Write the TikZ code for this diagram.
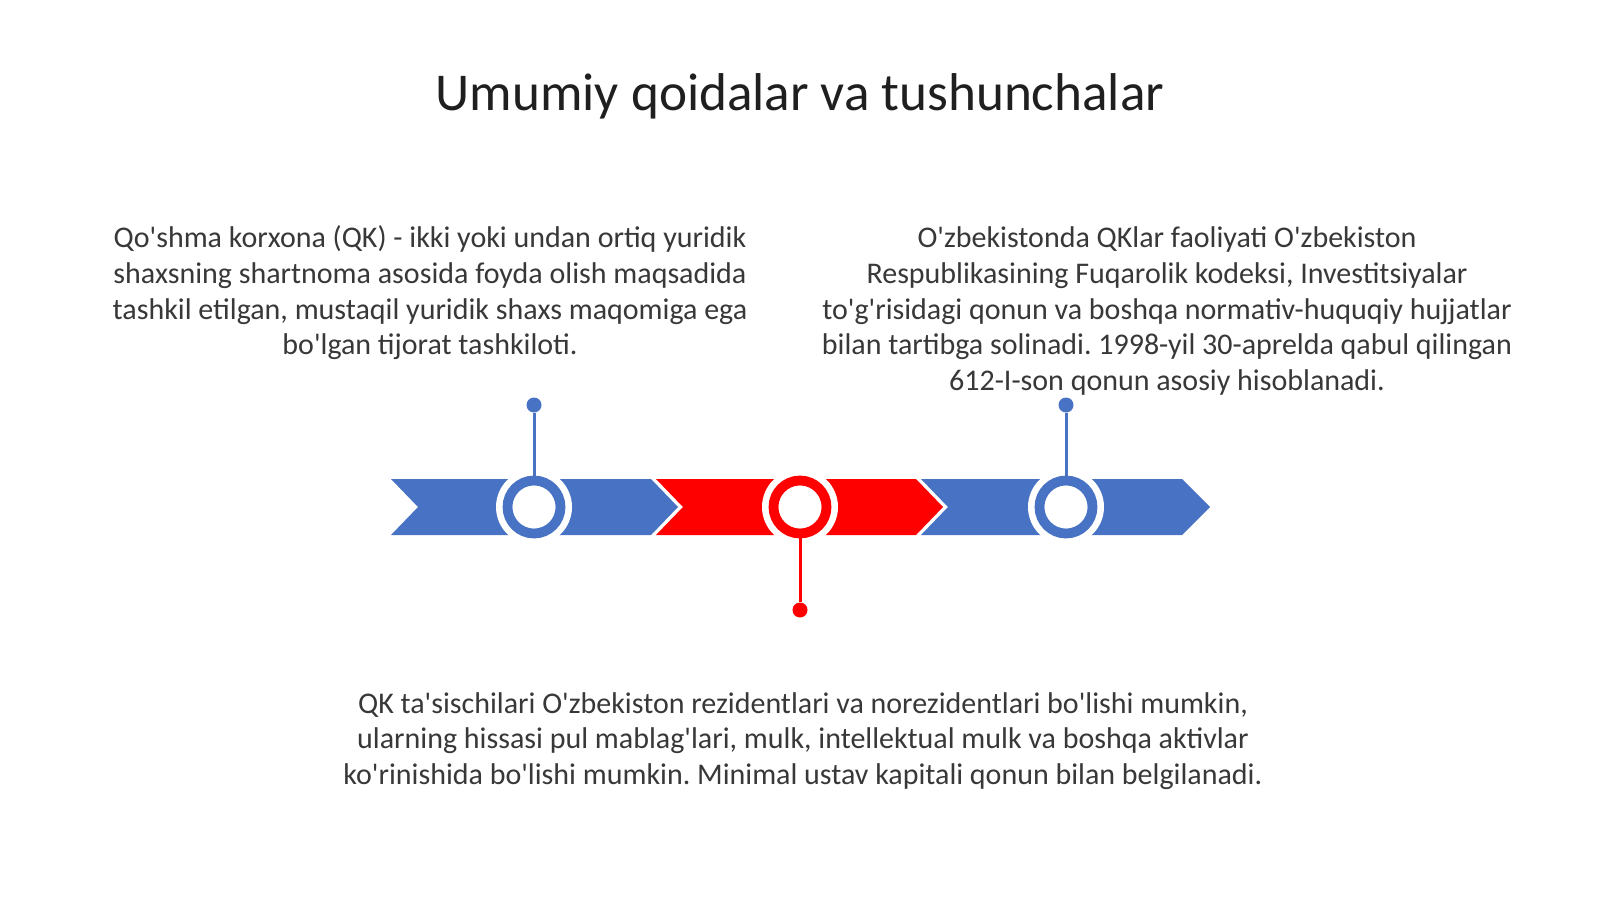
\documentclass[tikz,border=0pt]{standalone}
\usepackage{fontspec}
\setmainfont{Carlito}[Ligatures=TeXOff]
\frenchspacing
\definecolor{bandblue}{RGB}{72,114,196}
\definecolor{bandred}{RGB}{255,0,0}
\definecolor{textgray}{RGB}{56,56,56}

\begin{document}
\begin{tikzpicture}
	[x=0.5pt, y=-0.5pt,
	every node/.style={inner sep=0pt},
	txt/.style={align=center, text=textgray, font=\fontsize{15}{17.85}\selectfont},
	ring/.style={circle, fill=white, draw=#1, line width=4.9pt, minimum size=26.5pt},
	dot/.style={circle, fill=#1, minimum size=7.5pt},
	stem/.style={draw=#1, line width=1.5pt}]
	\useasboundingbox [fill=white] (0,0) rectangle (1600,899);
	\node (title) at (800,96) [text=black!88, font=\fontsize{26.6}{30}\selectfont] {Umumiy qoidalar va tushunchalar};
	% timeline bands
	\fill [bandblue] (391,479) -- (651,479) -- (678,507) -- (651,535) -- (391,535) -- (418,507) -- cycle;
	\fill [bandred] (656,479) -- (916,479) -- (943,507) -- (916,535) -- (656,535) -- (683,507) -- cycle;
	\fill [bandblue] (921,479) -- (1182,479) -- (1210,507) -- (1182,535) -- (921,535) -- (948,507) -- cycle;
	\fill [white] (534,507) circle (38) (800,507) circle (38) (1066,507) circle (38);
	\node (c1) [ring=bandblue] at (534,507) {};
	\node (c2) [ring=bandred] at (800,507) {};
	\node (c3) [ring=bandblue] at (1066,507) {};
	\node (d1) [dot=bandblue] at (534,405) {};
	\node (d2) [dot=bandred] at (800,610) {};
	\node (d3) [dot=bandblue] at (1066,405) {};
	\draw [stem=bandblue] (d1) -- (c1);
	\draw [stem=bandred] (d2) -- (c2);
	\draw [stem=bandblue] (d3) -- (c3);
	% texts
	\node (t1) [txt] at (430,293) {Qo'shma korxona (QK) - ikki yoki undan ortiq yuridik\\shaxsning shartnoma asosida foyda olish maqsadida\\tashkil etilgan, mustaqil yuridik shaxs maqomiga ega\\bo'lgan tijorat tashkiloti.};
	\node (t3) [txt] at (1167,311) {O'zbekistonda QKlar faoliyati O'zbekiston\\Respublikasining Fuqarolik kodeksi, Investitsiyalar\\to'g'risidagi qonun va boshqa normativ-huquqiy hujjatlar\\bilan tartibga solinadi. 1998-yil 30-aprelda qabul qilingan\\612-I-son qonun asosiy hisoblanadi.};
	\node (t2) [txt] at (803,741) {QK ta'sischilari O'zbekiston rezidentlari va norezidentlari bo'lishi mumkin,\\ularning hissasi pul mablag'lari, mulk, intellektual mulk va boshqa aktivlar\\ko'rinishida bo'lishi mumkin. Minimal ustav kapitali qonun bilan belgilanadi.};
\end{tikzpicture}
\end{document}
